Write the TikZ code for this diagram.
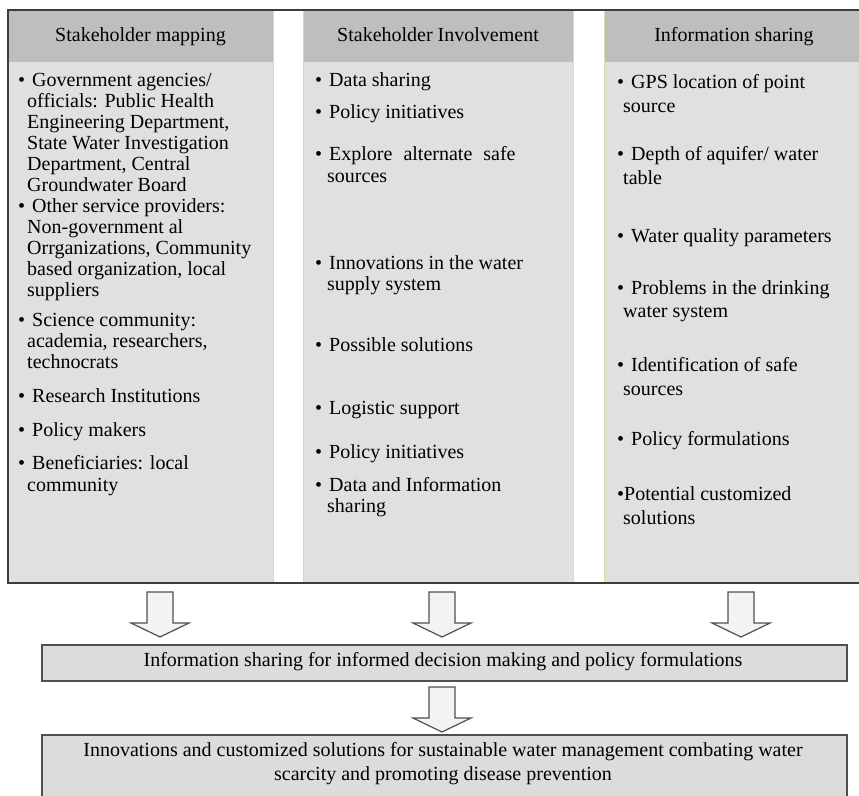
\documentclass[tikz,border=0pt]{standalone}
\usepackage{fontspec}
\setmainfont{Liberation Serif}
\definecolor{hdr}{HTML}{BEBEBE}
\definecolor{bod}{HTML}{E0E0E0}
\definecolor{grn}{HTML}{D2E2A6}
\definecolor{frm}{HTML}{3C3C3C}
\definecolor{boxfill}{HTML}{DCDCDC}
\definecolor{boxline}{HTML}{505050}
\definecolor{arrfill}{HTML}{F3F3F3}
\newcommand\bul{\textbullet\hspace{0.35em}}
\newcommand\myline[4]{\node[txtline] (#1) at (#2,#3) {#4};}
\newcommand\blockarrow[1]{\draw[arrstyle] (#1) ++(-13,0) -- ++(0,31) -- ++(-16,0) -- ++(29,14) -- ++(29,-14) -- ++(-16,0) -- ++(0,-31) -- cycle;}
\begin{document}
\begin{tikzpicture}[x=1pt,y=-1pt,
  txtline/.style={anchor=west,inner sep=0pt,font=\fontsize{20}{21}\selectfont,text height=13pt,text depth=4pt},
  ctrline/.style={inner sep=0pt,font=\fontsize{20}{21}\selectfont,text height=13pt,text depth=4pt},
  colbox/.style={draw=grn,line width=1.3pt,fill=bod,inner sep=0pt,anchor=north west},
  hdrbox/.style={fill=hdr,inner sep=0pt,anchor=north west},
  bigbox/.style={draw=boxline,line width=1.8pt,fill=boxfill,inner sep=0pt,anchor=north west},
  arrstyle/.style={draw=boxline,line width=1.2pt,fill=arrfill,line join=miter}]
\clip (0,0) rectangle (859,795);
% columns
\node[colbox,minimum width=265pt,minimum height=573pt] (c1) at (8,10) {};
\node[colbox,minimum width=270pt,minimum height=573pt] (c2) at (303,10) {};
\node[colbox,minimum width=265pt,minimum height=573pt] (c3) at (604,10) {};
\node[hdrbox,minimum width=263.7pt,minimum height=52pt] (h1) at (8.65,10) {};
\node[hdrbox,minimum width=268.7pt,minimum height=52pt] (h2) at (303.65,10) {};
\node[hdrbox,minimum width=263.7pt,minimum height=52pt] (h3) at (604.65,10) {};
% outer frame
\draw[frm,line width=2pt] (870,10) -- (8,10) -- (8,583) -- (870,583);
% headers
\node[ctrline] (t1) at (140.5,37) {Stakeholder mapping};
\node[ctrline] (t2) at (438,37) {Stakeholder Involvement};
\node[ctrline] (t3) at (734,37) {Information sharing};
% column 1
\myline{a1}{18}{82}{\bul Government agencies/}
\myline{a2}{27}{103}{officials: Public Health}
\myline{a3}{27}{124}{Engineering Department,}
\myline{a4}{27}{145}{State Water Investigation}
\myline{a5}{27}{166}{Department, Central}
\myline{a6}{27}{187}{Groundwater Board}
\myline{a7}{18}{208}{\bul Other service providers:}
\myline{a8}{27}{229}{Non-government al}
\myline{a9}{27}{250}{Orrganizations, Community}
\myline{a10}{27}{271}{based organization, local}
\myline{a11}{27}{292}{suppliers}
\myline{a12}{18}{322}{\bul Science community:}
\myline{a13}{27}{343}{academia, researchers,}
\myline{a14}{27}{364}{technocrats}
\myline{a15}{18}{398}{\bul Research Institutions}
\myline{a16}{18}{432}{\bul Policy makers}
\myline{a17}{18}{465}{\bul Beneficiaries: local}
\myline{a18}{27}{487}{community}
% column 2
\myline{b1}{315}{82}{\bul Data sharing}
\myline{b2}{315}{114}{\bul Policy initiatives}
\myline{b3}{315}{156}{\bul Explore\hspace{0.3em} alternate\hspace{0.3em} safe}
\myline{b4}{327}{178}{sources}
\myline{b5}{315}{265}{\bul Innovations in the water}
\myline{b6}{327}{286}{supply system}
\myline{b7}{315}{347}{\bul Possible solutions}
\myline{b8}{315}{410}{\bul Logistic support}
\myline{b9}{315}{454}{\bul Policy initiatives}
\myline{b10}{315}{487}{\bul Data and Information}
\myline{b11}{327}{508}{sharing}
% column 3
\myline{d1}{617}{84}{\bul GPS location of point}
\myline{d2}{623}{108}{source}
\myline{d3}{617}{156}{\bul Depth of aquifer/ water}
\myline{d4}{623}{180}{table}
\myline{d5}{617}{238}{\bul Water quality parameters}
\myline{d6}{617}{290}{\bul Problems in the drinking}
\myline{d7}{623}{313}{water system}
\myline{d8}{617}{367}{\bul Identification of safe}
\myline{d9}{623}{391}{sources}
\myline{d10}{617}{441}{\bul Policy formulations}
\myline{d11}{617}{496}{\textbullet Potential customized}
\myline{d12}{623}{520}{solutions}
% bottom boxes
\node[bigbox,minimum width=805pt,minimum height=36pt] (box1) at (41,644) {};
\node[ctrline] (box1t) at (443,662) {Information sharing for informed decision making and policy formulations};
\node[bigbox,minimum width=805pt,minimum height=80pt] (box2) at (41,734) {};
\node[ctrline] (box2t1) at (443,752) {Innovations and customized solutions for sustainable water management combating water};
\node[ctrline] (box2t2) at (443,776) {scarcity and promoting disease prevention};
% block arrows
\coordinate (ar1) at (160,592);
\coordinate (ar2) at (442,592);
\coordinate (ar3) at (741,592);
\coordinate (ar4) at (442,687);
\blockarrow{ar1}
\blockarrow{ar2}
\blockarrow{ar3}
\blockarrow{ar4}
\end{tikzpicture}
\end{document}
